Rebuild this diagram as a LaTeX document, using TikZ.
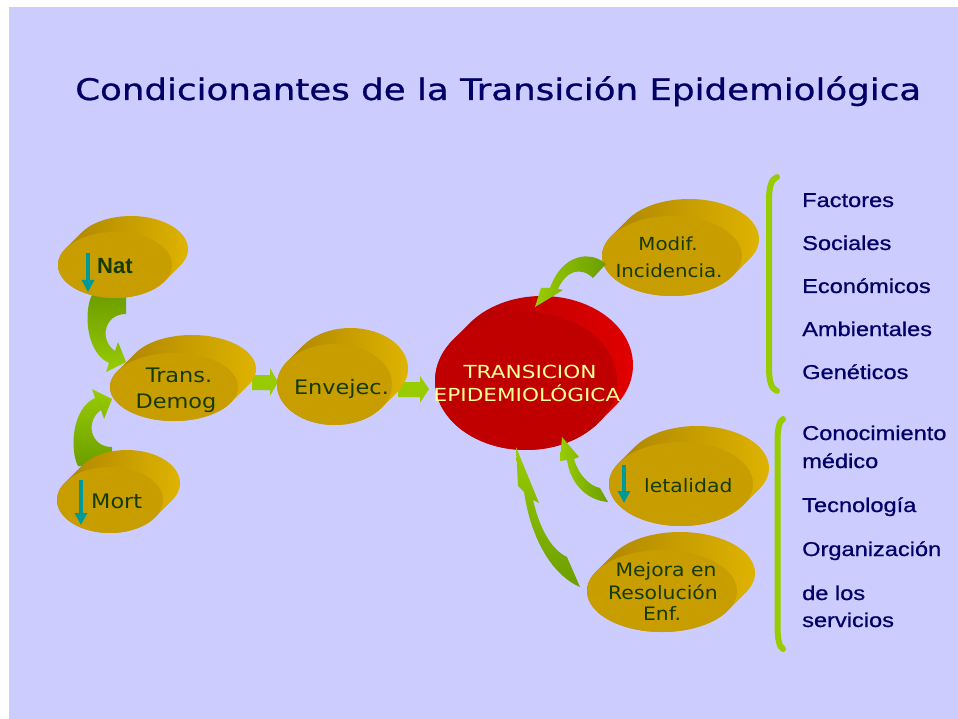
\documentclass[tikz,border=0pt]{standalone}
\usepackage{fontspec}
\usetikzlibrary{arrows.meta,calc}
\newfontfamily\titlefont[FakeStretch=1.2,FakeBold=0.8]{DejaVu Sans}
\newfontfamily\nodefont[FakeStretch=1.12]{DejaVu Sans}
\newfontfamily\smallfont[FakeStretch=1.1]{DejaVu Sans}
\newfontfamily\capfont[FakeStretch=1.2]{DejaVu Sans}
\newfontfamily\listfont[FakeStretch=1.18,FakeBold=0.8]{Liberation Sans}
\newfontfamily\natfont{Liberation Sans}
\definecolor{bg}{RGB}{204,204,255}
\definecolor{navy}{RGB}{0,0,102}
\definecolor{gold}{RGB}{200,157,0}
\definecolor{goldmid}{RGB}{168,128,0}
\definecolor{goldlight}{RGB}{226,182,0}
\definecolor{txtgreen}{RGB}{22,58,0}
\definecolor{redfront}{RGB}{192,0,0}
\definecolor{redmid}{RGB}{170,0,0}
\definecolor{redlight}{RGB}{228,0,0}
\definecolor{grlight}{RGB}{153,204,0}
\definecolor{grdark}{RGB}{108,158,0}
\definecolor{tealc}{RGB}{0,153,153}
\definecolor{cream}{RGB}{255,255,153}
\newcommand{\mydisc}[9]{%
  \pgfmathsetmacro{\tA}{atan(#5/#4)}%
  \pgfmathsetmacro{\tB}{\tA-180}%
  \pgfmathsetmacro{\tC}{\tA-360}%
  \shade[left color=#8,middle color=#8!74!black,right color=#9]
    ([shift={(\tA:#4 and #5)}]#2,#3) -- ++(#6,-#6)
    arc[start angle=\tA,end angle=\tB,x radius=#4,y radius=#5]
    -- ([shift={(\tB:#4 and #5)}]#2,#3)
    arc[start angle=\tB,end angle=\tC,x radius=#4,y radius=#5] -- cycle;
  \fill[#7] (#2,#3) ellipse[x radius=#4,y radius=#5];
  \coordinate (#1) at (#2,#3);
}
\begin{document}
\begin{tikzpicture}[x=1pt,y=-1pt,
  nodetxt/.style={inner sep=0pt,anchor=base,text=txtgreen,font=\nodefont\fontsize{20}{24}\selectfont},
  smalltxt/.style={inner sep=0pt,anchor=base,text=txtgreen,font=\smallfont\fontsize{18}{22}\selectfont},
  midtxt/.style={inner sep=0pt,anchor=base,text=txtgreen,font=\smallfont\fontsize{18.5}{22}\selectfont},
  captxt/.style={inner sep=0pt,anchor=base,text=cream,font=\capfont\fontsize{18}{22}\selectfont},
  listtxt/.style={inner sep=0pt,anchor=base west,text=navy,font=\listfont\fontsize{20}{24}\selectfont},
  tealarrow/.style={draw=tealc,line width=3.5pt,-{Triangle[width=12pt,length=12pt]}},
  bracketline/.style={draw=grlight,line width=6pt,line cap=round},
  blockarrow/.style={fill=grlight}
]
\useasboundingbox (0,0) rectangle (958,719);
\fill[white] (0,0) rectangle (958,719);
\fill[bg] (9,7) rectangle (958,719);

\node[inner sep=0pt,anchor=base west,text=navy,font=\titlefont\fontsize{29.7}{35}\selectfont] (title) at (75,100) {Condicionantes de la Transición Epidemiológica};

% arrows behind the discs
\shade[top color=grdark,bottom color=grlight]
  (126,295) -- (126,314) .. controls (104,314) and (99,340) .. (115,351)
  -- (118,342) -- (126,362) -- (106,372) -- (109,363)
  .. controls (85,352) and (84,310) .. (92,295) -- cycle;
\shade[top color=grlight,bottom color=grdark]
  (112,466) -- (112,447) .. controls (90,447) and (85,421) .. (101,410)
  -- (104,419) -- (112,399) -- (92,389) -- (95,398)
  .. controls (71,409) and (70,451) .. (78,466) -- cycle;
\fill[blockarrow] (252,375) -- (270,375) -- (270,368) -- (278,382) -- (270,396) -- (270,390) -- (252,390) -- cycle;
\fill[blockarrow] (398,382) -- (420,382) -- (420,376) -- (429,389) -- (420,403) -- (420,397) -- (398,397) -- cycle;

% discs
\mydisc{natd}{115}{265}{57}{33}{16}{gold}{goldmid}{goldlight}
\mydisc{transd}{174}{387}{64}{34}{18}{gold}{goldmid}{goldlight}
\mydisc{mortd}{110}{500}{53}{33}{17}{gold}{goldmid}{goldlight}
\mydisc{envd}{334.5}{384.5}{57.5}{40.5}{16}{gold}{goldmid}{goldlight}
\mydisc{modd}{672}{256}{70}{40}{17}{gold}{goldmid}{goldlight}
\mydisc{epid}{526}{381}{91}{69}{16}{redfront}{redmid}{redlight}
\mydisc{letd}{681}{484}{72}{42}{16}{gold}{goldmid}{goldlight}
\mydisc{mejd}{662}{591}{75}{41}{18}{gold}{goldmid}{goldlight}

% curved arrows into the red disc
\shade[left color=grlight,right color=grdark]
  (606,264) .. controls (590,250) and (562,254) .. (550,288)
  -- (541,288) -- (535,307) -- (563,290) -- (558,289)
  .. controls (566,271) and (580,266) .. (593,278) -- cycle;
\shade[left color=grlight,right color=grdark]
  (608,502) .. controls (585,500) and (570,482) .. (567,460)
  -- (560,461) -- (562,437) -- (579,457) -- (574,459)
  .. controls (579,476) and (590,486) .. (600,488) -- cycle;
\shade[top color=grlight,bottom color=grdark]
  (580,587) .. controls (556,577) and (532,545) .. (524,492)
  -- (518,486) -- (516,447) -- (539,503) -- (533,500)
  .. controls (540,530) and (552,550) .. (567,557) -- cycle;

% texts in discs
\node[inner sep=0pt,anchor=base west,text=txtgreen,font=\natfont\bfseries\fontsize{22}{26}\selectfont] (nat) at (97,274) {Nat};
\node[nodetxt] (tdA) at (179,382) {Trans.};
\node[nodetxt] (tdB) at (176,408) {Demog};
\node[nodetxt,anchor=base west] (mort) at (91,508) {Mort};
\node[nodetxt] (env) at (341.5,394) {Envejec.};
\node[smalltxt] (modA) at (668,251) {Modif.};
\node[smalltxt] (modB) at (669,278) {Incidencia.};
\node[captxt] (epiA) at (530,378) {TRANSICION};
\node[captxt] (epiB) at (527,401) {EPIDEMIOLÓGICA};
\node[midtxt,anchor=base west] (let) at (644,492) {letalidad};
\node[midtxt] (mejA) at (666,576) {Mejora en};
\node[midtxt] (mejB) at (663,599) {Resolución};
\node[midtxt] (mejC) at (662,620) {Enf.};

% teal arrows
\coordinate (natA) at (88,253); \coordinate (natB) at (88,292);
\coordinate (mortA) at (81,480); \coordinate (mortB) at (81,525);
\coordinate (letA) at (624,465); \coordinate (letB) at (624,503);
\draw[tealarrow] (natA) -- (natB);
\draw[tealarrow] (mortA) -- (mortB);
\draw[tealarrow] (letA) -- (letB);

% brackets
\draw[bracketline] (777,177) .. controls (771,179) and (769,188) .. (769,200) -- (769,368) .. controls (769,380) and (771,389) .. (777,391);
\draw[bracketline] (783,419) .. controls (779,421) and (777.5,430) .. (777.5,442) -- (777.5,626) .. controls (777.5,638) and (779,647) .. (783,649);

% lists
\node[listtxt] (f1) at (802,207) {Factores};
\node[listtxt] (f2) at (802,250) {Sociales};
\node[listtxt] (f3) at (802,293) {Económicos};
\node[listtxt] (f4) at (802,336) {Ambientales};
\node[listtxt] (f5) at (802,379) {Genéticos};
\node[listtxt] (k1) at (802,440) {Conocimiento};
\node[listtxt] (k2) at (802,468) {médico};
\node[listtxt] (k3) at (802,512) {Tecnología};
\node[listtxt] (k4) at (802,556) {Organización};
\node[listtxt] (k5) at (802,600) {de los};
\node[listtxt] (k6) at (802,627) {servicios};
\end{tikzpicture}
\end{document}
